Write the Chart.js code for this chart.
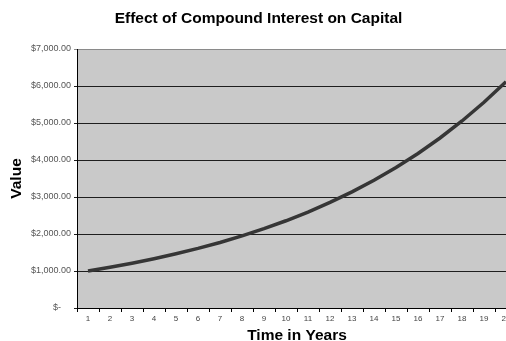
<!DOCTYPE html>
<html>
<head>
<meta charset="utf-8">
<script src="https://cdn.jsdelivr.net/npm/chart.js@4.4.1/dist/chart.umd.min.js"></script>
<style>
  html, body { margin: 0; padding: 0; background: #fff; overflow: hidden; }
  #wrap { width: 520px; height: 341px; }
</style>
</head>
<body>
<div id="wrap"><canvas id="myChart" width="520" height="341"></canvas></div>
<script>
var years = ["1", "2", "3", "4", "5", "6", "7", "8", "9", "10",
  "11", "12", "13", "14", "15", "16", "17", "18", "19", "20"];

// capital at the start of each year
var capital = [1000.00, 1100.00, 1210.00, 1331.00, 1464.10, 1610.51, 1771.56,
  1948.72, 2143.59, 2357.95, 2593.74, 2853.12, 3138.43, 3452.27, 3797.50,
  4177.25, 4594.97, 5054.47, 5559.92, 6115.91];

var valueTicks = ["$-    ", "$1,000.00", "$2,000.00", "$3,000.00",
  "$4,000.00", "$5,000.00", "$6,000.00", "$7,000.00"];

var fontFamily = "Arial, 'Liberation Sans', sans-serif";

// grey plot area behind the line
var plotBackground = {
  id: "plotBackground",
  beforeDraw: function (chart) {
    var a = chart.chartArea;
    var ctx = chart.ctx;
    ctx.save();
    ctx.fillStyle = "#c9c9c9";
    ctx.fillRect(a.left, a.top, a.right - a.left, a.bottom - a.top);
    ctx.restore();
  }
};

function get_chart() {
  var ctx = document.getElementById("myChart");

  var chart = new Chart(ctx, {
    type: "line",
    data: {
      labels: years,
      datasets: [
        {
          label: "Capital",
          data: capital,
          borderColor: "#363636",
          borderWidth: 3.5,
          pointRadius: 0,
          tension: 0,
          fill: false
        }
      ]
    },
    options: {
      responsive: false,
      animation: false,
      layout: { padding: { left: 0, right: 3, top: 0, bottom: 0 } },
      plugins: {
        legend: { display: false },
        tooltip: { enabled: false },
        title: {
          display: true,
          text: "Effect of Compound Interest on Capital",
          color: "#000",
          font: { family: fontFamily, size: 15.5, weight: "bold" },
          padding: { top: 9, bottom: 21.4 }
        }
      },
      scales: {
        x: {
          offset: true,
          afterFit: function (scale) { scale.height = 33; },
          grid: {
            offset: true,
            drawOnChartArea: false,
            drawTicks: true,
            tickLength: 4,
            color: "#000"
          },
          border: { color: "#000", width: 1 },
          ticks: {
            color: "#444",
            font: { family: fontFamily, size: 8 },
            padding: 2,
            maxRotation: 0,
            autoSkip: false
          },
          title: {
            display: true,
            text: "Time in Years",
            color: "#000",
            font: { family: fontFamily, size: 15.5, weight: "bold", lineHeight: 0.7 },
            padding: { top: 0, bottom: 0 }
          }
        },
        y: {
          min: 0,
          max: 7000,
          afterFit: function (scale) { scale.width = 77; },
          ticks: {
            stepSize: 1000,
            color: "#555",
            font: { family: fontFamily, size: 9 },
            padding: 3,
            callback: function (value, index) { return valueTicks[index]; }
          },
          grid: {
            tickLength: 3,
            lineWidth: 1,
            color: function (c) { return c.index === 7 ? "#8a8a8a" : "#1e1e1e"; }
          },
          border: { color: "#000", width: 1 },
          title: {
            display: true,
            text: "Value",
            color: "#000",
            font: { family: fontFamily, size: 15.5, weight: "bold" },
            padding: { top: 7, bottom: 0 }
          }
        }
      }
    },
    plugins: [plotBackground]
  });
}

get_chart();
</script>
</body>
</html>
